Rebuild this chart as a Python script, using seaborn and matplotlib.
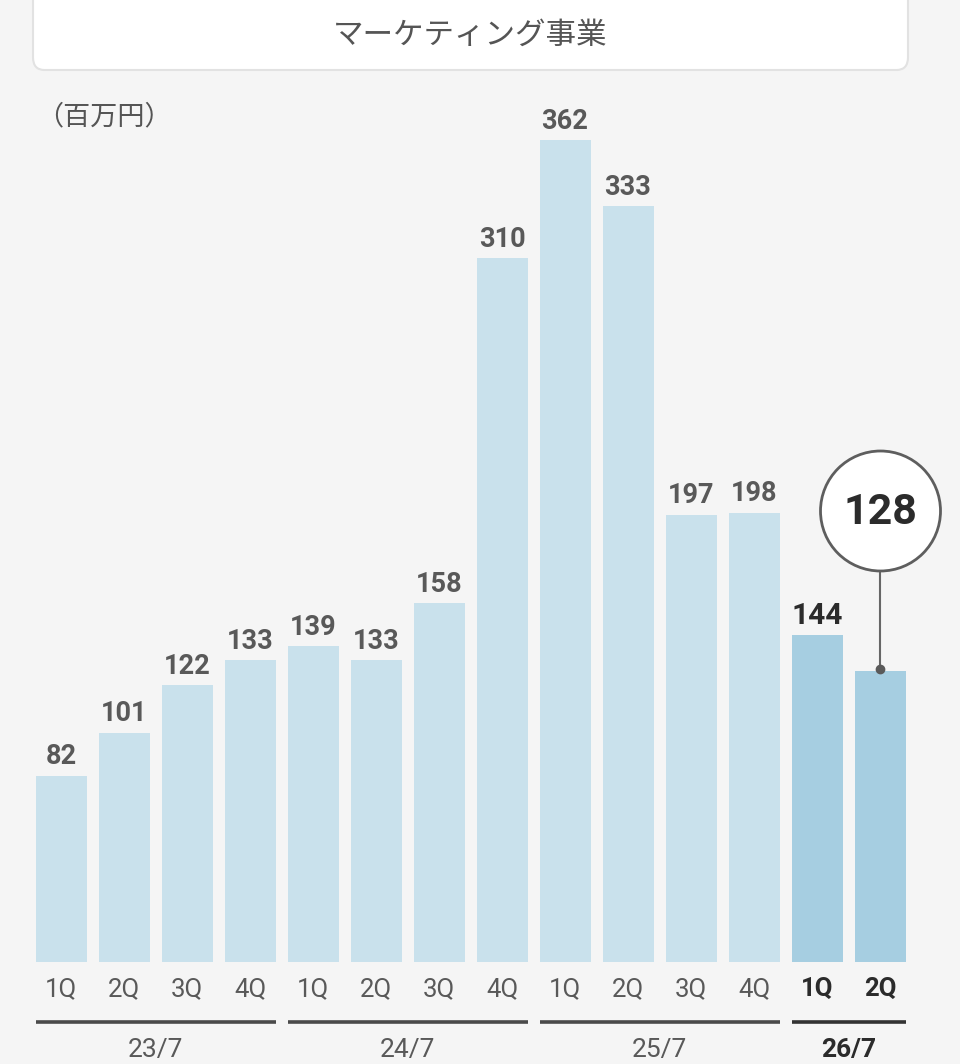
import matplotlib
matplotlib.use("Agg")
import matplotlib.pyplot as plt
from matplotlib.patches import FancyBboxPatch, Circle
import seaborn as sns
import pandas as pd

# ---- data ----
quarters = ["1Q", "2Q", "3Q", "4Q", "1Q", "2Q", "3Q", "4Q", "1Q", "2Q", "3Q", "4Q", "1Q", "2Q"]
values = [82, 101, 122, 133, 139, 133, 158, 310, 362, 333, 197, 198, 144, 128]
fiscal_years = ["23/7", "24/7", "25/7", "26/7"]
year_sizes = [4, 4, 4, 2]
title = "マーケティング事業"
unit = "（百万円）"

sns.set_theme(style="white")
plt.rcParams["font.family"] = ["Roboto", "Noto Sans CJK JP", "DejaVu Sans"]

BG = "#F5F5F5"
LIGHT = "#C9E1EC"
DARK = "#A6CEE1"
GRAY = "#595959"
INK = "#2B2B2B"

n = len(values)
current = [i >= n - 2 for i in range(n)]
df = pd.DataFrame({
    "pos": list(range(n)),
    "value": values,
    "kind": ["cur" if c else "past" for c in current],
})

W, H = 960, 1064
fig = plt.figure(figsize=(W / 100, H / 100), dpi=100, facecolor=BG)

# axes placement in pixels
base_y = 962
top_y = 100
px_per_unit = 2.27
ymax = (base_y - top_y) / px_per_unit
spacing = 63.0
first_center = 61.0
ax = fig.add_axes([0, 1 - base_y / H, 1, (base_y - top_y) / H])
ax.set_facecolor(BG)

sns.barplot(data=df, x="pos", y="value", hue="kind", order=list(range(n)),
            palette={"past": LIGHT, "cur": DARK}, dodge=False, width=51 / spacing,
            legend=False, ax=ax, native_scale=True, saturation=1,
            edgecolor="none", linewidth=0)

ax.set_xlim(-first_center / spacing, -first_center / spacing + W / spacing)
ax.set_ylim(0, ymax)
for s in ax.spines.values():
    s.set_visible(False)
ax.set_yticks([])
ax.set_xlabel("")
ax.set_ylabel("")
ax.set_xticks(range(n))
ax.set_xticklabels(quarters)
ax.tick_params(axis="x", length=0, pad=11)
for i, lab in enumerate(ax.get_xticklabels()):
    if current[i]:
        lab.set_fontweight("bold")
        lab.set_color(INK)
    else:
        lab.set_color(GRAY)
    lab.set_fontsize(18.5)

# value labels
for i, v in enumerate(values):
    if i == n - 1:
        continue
    if current[i]:
        ax.annotate(str(v), (i, v), xytext=(0, 4), textcoords="offset points",
                    ha="center", va="bottom", fontsize=21.5, fontweight="bold", color=INK)
    else:
        ax.annotate(str(v), (i, v), xytext=(0, 4), textcoords="offset points",
                    ha="center", va="bottom", fontsize=19.5, fontweight="bold", color=GRAY)

# callout for latest value
li = n - 1
lv = values[li]
circ_center_px = 511
circ_r = 60
cy_data = (base_y - circ_center_px) / px_per_unit
cr_data = circ_r / px_per_unit
ax.plot([li, li], [lv + 1, cy_data - cr_data], color="#666666", lw=1.5, zorder=3)
ax.plot([li], [lv + 1], marker="o", ms=6, color="#5A5A5A", zorder=4)
circle = Circle((880.5, H - circ_center_px), circ_r, transform=None,
                facecolor="white", edgecolor="#5E5E5E", lw=2, zorder=5)
fig.patches.append(circle)
fig.text(880.5 / W, 1 - 512 / H, str(lv), ha="center", va="center",
         fontsize=31, fontweight="bold", color=INK, zorder=6)

# group underline and year labels
xt = ax.get_xaxis_transform()
bw = 51 / spacing
start = 0
for k, (fy, sz) in enumerate(zip(fiscal_years, year_sizes)):
    x0 = start - bw / 2
    x1 = start + sz - 1 + bw / 2
    is_cur = k == len(fiscal_years) - 1
    line_y = -(1022 - base_y) / (base_y - top_y)
    ax.plot([x0, x1], [line_y, line_y], transform=xt, clip_on=False,
            color="#333333" if is_cur else "#4A4A4A", lw=2.6, solid_capstyle="butt")
    lab_y = -(1050 - base_y) / (base_y - top_y)
    ax.text((x0 + x1) / 2, lab_y, fy, transform=xt, ha="center", va="center",
            fontsize=19, fontweight="bold" if is_cur else "normal",
            color=INK if is_cur else GRAY, clip_on=False)
    start += sz

# title box
box = FancyBboxPatch((33 / W, 1 - 70 / H), (908 - 33) / W, 100 / H,
                     boxstyle="round,pad=0,rounding_size=0.012",
                     transform=fig.transFigure, facecolor="white",
                     edgecolor="#E2E2E2", lw=1.5, zorder=1)
fig.patches.append(box)
fig.text(470 / W, 1 - 35 / H, title, ha="center", va="center", fontsize=22,
         color="#555555", family=["Noto Sans CJK JP", "DejaVu Sans"], zorder=2)

fig.text(36 / W, 1 - 117 / H, unit, ha="left", va="center", fontsize=19.5,
         color="#555555", family=["Noto Sans CJK JP", "DejaVu Sans"])

fig.savefig("out.png", dpi=100, facecolor=BG)
